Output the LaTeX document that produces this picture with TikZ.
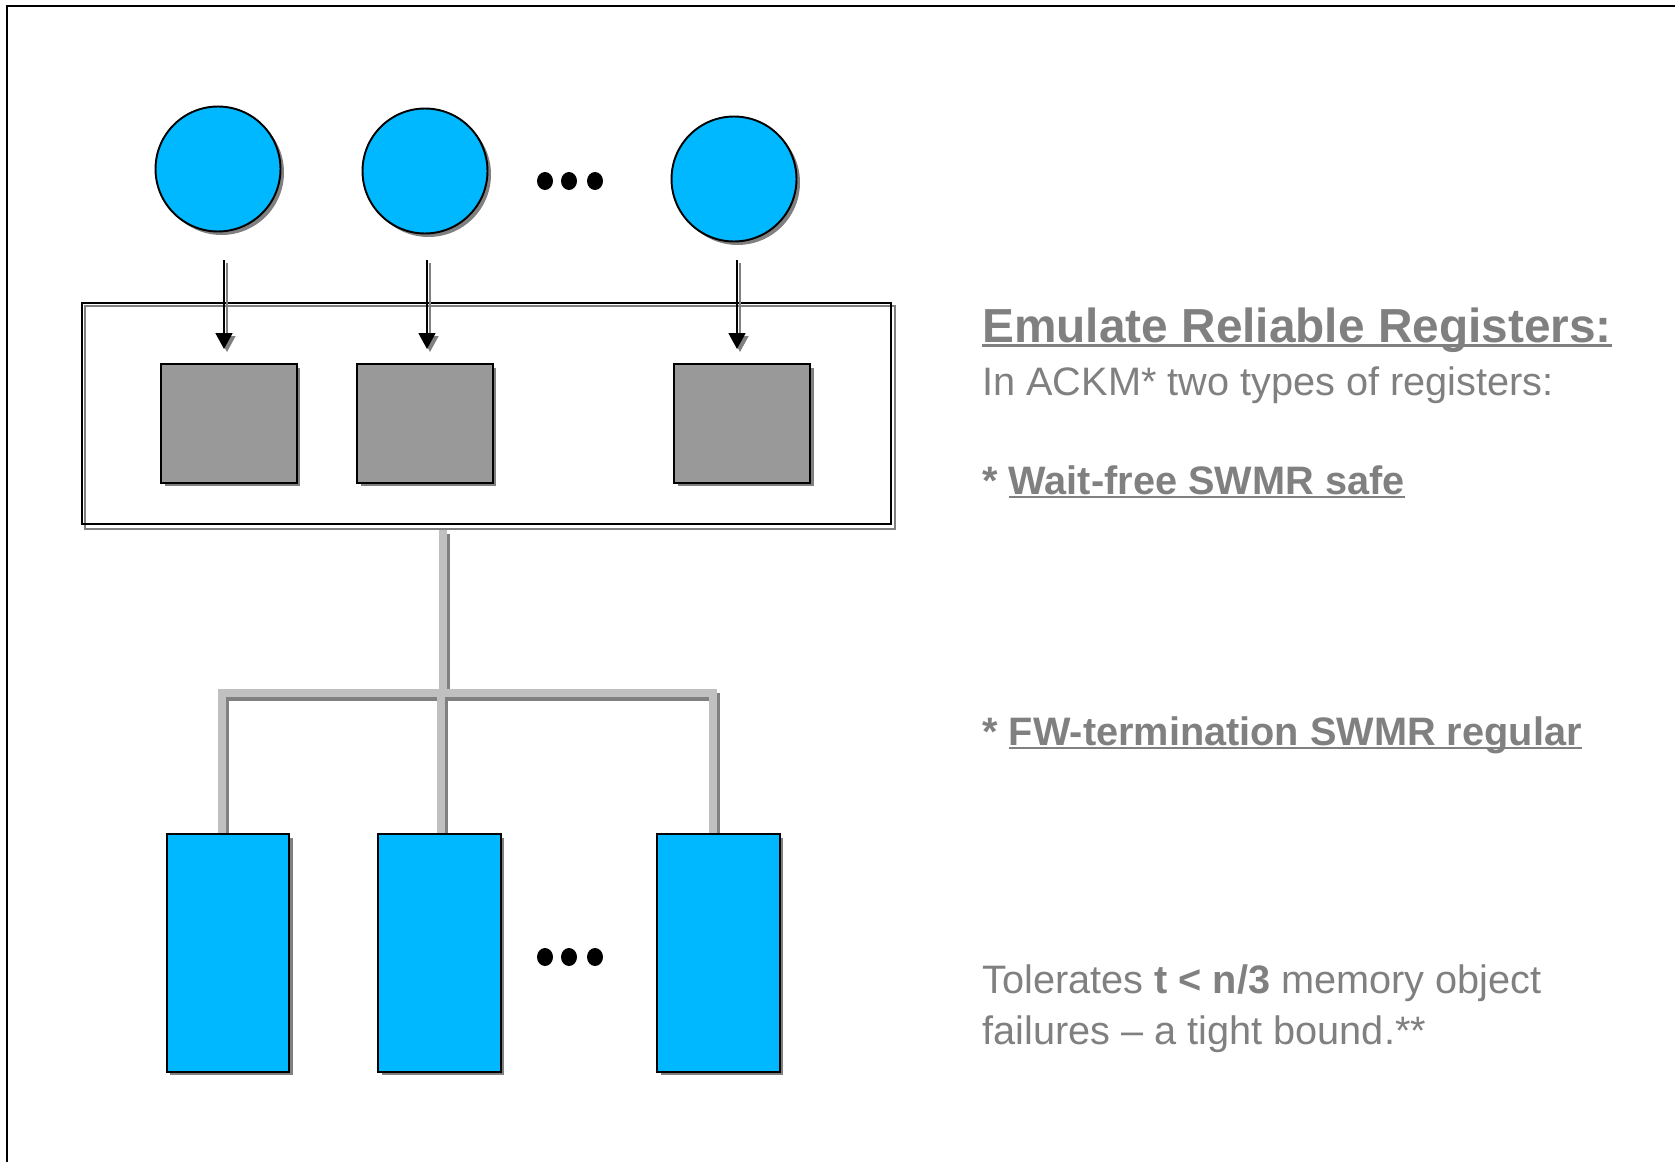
\documentclass[tikz,border=0pt]{standalone}
\usepackage{fontspec}
\setmainfont{Liberation Sans}
\usetikzlibrary{shadows,arrows.meta,shapes.geometric}
\definecolor{procblue}{RGB}{0,184,255}
\definecolor{regfill}{RGB}{153,153,153}
\definecolor{txtgray}{RGB}{128,128,128}
\definecolor{pipelight}{RGB}{192,192,192}
\definecolor{pipedark}{RGB}{128,128,128}
\newcommand\myul[1]{\setbox0\hbox{#1}\rlap{\rule[-0.11em]{\wd0}{0.065em}}\box0}
\begin{document}
\begin{tikzpicture}[x=0.02cm,y=-0.02cm,
  shad/.style={drop shadow={shadow xshift=0.07cm,shadow yshift=-0.07cm,fill=pipedark,opacity=1}},
  proc/.style={circle,draw=black,line width=1.1pt,fill=procblue,minimum size=2.5cm,inner sep=0,shad},
  reg/.style={rectangle,draw=black,line width=1.1pt,fill=regfill,minimum width=2.72cm,minimum height=2.38cm,inner sep=0,shad},
  mem/.style={rectangle,draw=black,line width=1.1pt,fill=procblue,minimum width=2.45cm,minimum height=4.76cm,inner sep=0,shad},
  grpbox/.style={rectangle,draw=black,line width=1.1pt,minimum width=16.18cm,minimum height=4.42cm,inner sep=0},
  dotn/.style={ellipse,fill=black,minimum width=0.32cm,minimum height=0.36cm,inner sep=0},
  arr/.style={line width=1pt,-{Triangle[length=0.32cm,width=0.34cm]}},
  arrshad/.style={line width=1pt,draw=pipedark,-{Triangle[length=0.32cm,width=0.34cm]}},
  pipeL/.style={line width=0.15cm,draw=pipelight},
  pipeD/.style={line width=0.15cm,draw=pipedark},
  pshift/.style={xshift=0.07cm,yshift=-0.08cm},
  txt/.style={anchor=base west,inner sep=0,text=txtgray,font=\fontsize{22.6}{27}\selectfont},
  ttl/.style={anchor=base west,inner sep=0,text=txtgray,font=\fontsize{27.2}{32}\selectfont\bfseries}
]
\useasboundingbox (0,0) rectangle (1675,1162);
% frame
\draw[line width=1.2pt] (7,1162) -- (7,6) -- (1675,6);

% processes
\node[proc] (c1) at (218,169) {};
\node[proc] (c2) at (425,171) {};
\node[proc] (c3) at (734,179) {};
\node[dotn] (d1) at (545,181) {};
\node[dotn] (d2) at (569,181) {};
\node[dotn] (d3) at (595,181) {};

% group box
\node[grpbox] (grp) at (486.5,413.5) {};
\draw[pipedark,line width=1.1pt] ([pshift]grp.north west) rectangle ([pshift]grp.south east);
\node[grpbox] at (grp) {};

% registers
\node[reg] (s1) at (229,423.5) {};
\node[reg] (s2) at (425,423.5) {};
\node[reg] (s3) at (742,423.5) {};

% arrows
\coordinate (a1s) at (224,260); \coordinate (a1e) at (224,349);
\coordinate (a2s) at (427,260); \coordinate (a2e) at (427,349);
\coordinate (a3s) at (737,260); \coordinate (a3e) at (737,349);
\foreach \a in {1,2,3}{
  \draw[arrshad] ([xshift=0.06cm,yshift=-0.06cm]a\a s) -- ([xshift=0.06cm,yshift=-0.06cm]a\a e);
  \draw[arr] (a\a s) -- (a\a e);
}

% memory objects
\node[mem] (m1) at (228,953) {};
\node[mem] (m2) at (439.5,953) {};
\node[mem] (m3) at (718.5,953) {};
\node[dotn] (e1) at (545,957) {};
\node[dotn] (e2) at (569,957) {};
\node[dotn] (e3) at (595,957) {};

% pipes
\coordinate (tTop) at (443,530);
\coordinate (bM) at (443,693);
\coordinate (bL) at (222,693);
\coordinate (bR) at (713,693);
\coordinate (vM) at (441,693);
\coordinate (m1t) at (bL |- m1.north);
\coordinate (m2t) at (vM |- m2.north);
\coordinate (m3t) at (bR |- m3.north);
\draw[pipeD] ([pshift]tTop) -- ([pshift]bM);
\draw[pipeD,line cap=rect] ([pshift]bL) -- ([pshift]bR);
\draw[pipeD] ([pshift]bL) -- ([pshift]m1t);
\draw[pipeD] ([pshift]vM) -- ([pshift]m2t);
\draw[pipeD] ([pshift]bR) -- ([pshift]m3t);
\draw[pipeL] (tTop) -- (bM);
\draw[pipeL,line cap=rect] (bL) -- (bR);
\draw[pipeL] (bL) -- (m1t);
\draw[pipeL] (vM) -- (m2t);
\draw[pipeL] (bR) -- (m3t);
\node[mem] at (m1) {};
\node[mem] at (m2) {};
\node[mem] at (m3) {};

% text
\node[ttl] (t1) at (982,342) {\myul{Emulate Reliable Registers:}};
\node[txt] (t2) at (982,395) {In ACKM* two types of registers:};
\node[txt] (t3) at (982,494) {\textbf{* \myul{Wait-free SWMR safe}}};
\node[txt] (t4) at (982,745) {\textbf{* \myul{FW-termination SWMR regular}}};
\node[txt] (t5) at (982,993) {Tolerates \textbf{t < n/3} memory object};
\node[txt] (t6) at (982,1044) {failures – a tight bound.**};
\end{tikzpicture}
\end{document}
